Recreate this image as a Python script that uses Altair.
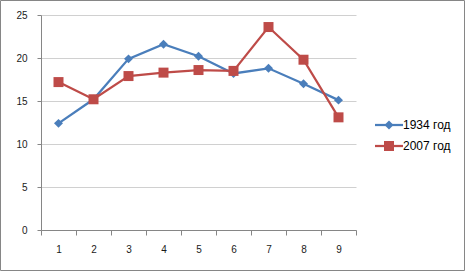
import altair as alt
import pandas as pd

months = [1, 2, 3, 4, 5, 6, 7, 8, 9]
s1934 = [12.4, 15.2, 19.9, 21.6, 20.2, 18.2, 18.8, 17.0, 15.1]
s2007 = [17.2, 15.2, 17.9, 18.3, 18.6, 18.5, 23.6, 19.8, 13.1]
series = ["1934 год", "2007 год"]
colors = ["#4A7EBB", "#BE4B48"]
shapes = ["diamond", "square"]
y_ticks = [0, 5, 10, 15, 20, 25]

df = pd.DataFrame({
    "x": months * 2,
    "y": s1934 + s2007,
    "series": [series[0]] * len(months) + [series[1]] * len(months),
})
legend_df = pd.DataFrame({"series": series})
frame_df = pd.DataFrame({"k": [0]})

font = "Liberation Sans"
color = alt.Color("series:N", scale=alt.Scale(domain=series, range=colors), legend=None)
shape = alt.Shape("series:N", scale=alt.Scale(domain=series, range=shapes), legend=None)
size = alt.Size("series:N", scale=alt.Scale(domain=series, range=[80, 100]), legend=None)

x = alt.X("x:O", sort=months,
          scale=alt.Scale(type="band", paddingInner=0, paddingOuter=0),
          axis=alt.Axis(title=None, labelAngle=0, tickBand="extent", tickSize=5,
                        labelPadding=9, labelFont=font, labelFontSize=10,
                        labelColor="#1a1a1a", domainColor="#868686",
                        tickColor="#868686", grid=False))
y = alt.Y("y:Q", scale=alt.Scale(domain=[0, 25], nice=False),
          axis=alt.Axis(title=None, values=y_ticks, tickSize=4, labelPadding=10,
                        labelFont=font, labelFontSize=10, labelColor="#1a1a1a",
                        domainColor="#868686", tickColor="#868686",
                        grid=True, gridColor="#d0d0d0"))

base = alt.Chart(df)
lines = base.mark_line(strokeWidth=2.25).encode(x=x, y=y, color=color, detail="series:N")
points = base.mark_point(filled=True, opacity=1).encode(x=x, y=y, color=color, shape=shape, size=size)
main = alt.layer(lines, points)

ly = alt.Y("series:N", scale=alt.Scale(type="point", domain=series, range=[110, 131], padding=0), axis=None)
leg = alt.Chart(legend_df)
leg_line = leg.mark_rule(strokeWidth=2.25).encode(
    x=alt.value(334), x2=alt.value(362), y=ly, color=color)
leg_pt = leg.mark_point(filled=True, opacity=1).encode(
    x=alt.value(348), y=ly, color=color, shape=shape, size=size)
leg_txt = leg.mark_text(align="left", baseline="middle", font=font, fontSize=12, color="#000000").encode(
    x=alt.value(362), y=ly, text="series:N")
legend_layer = alt.layer(leg_line, leg_pt, leg_txt)

frame = alt.Chart(frame_df).mark_rect(fill=None, stroke="#868686", strokeWidth=1).encode(
    x=alt.value(-40.5), x2=alt.value(423.5), y=alt.value(-14.5), y2=alt.value(255.5))

chart = alt.layer(main, legend_layer, frame).resolve_scale(
    y="independent"
).properties(
    width=315, height=215,
    autosize=alt.AutoSizeParams(type="none"),
    padding={"left": 41, "top": 15, "right": 109, "bottom": 41},
    background="white",
).configure_view(stroke=None)

chart.save("out.html", embed_options={"renderer": "svg", "actions": False})
